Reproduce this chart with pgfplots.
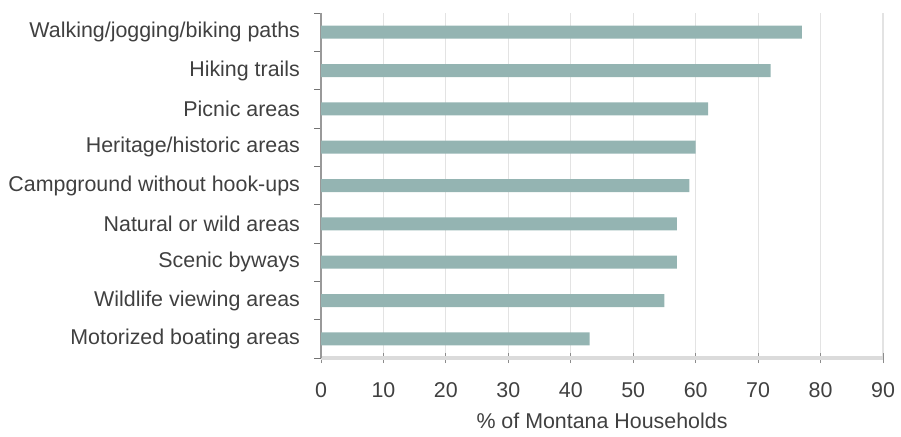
\documentclass[border=0pt]{standalone}
\usepackage{fontspec}
\setmainfont{Liberation Sans}
\usepackage{pgfplots}
\pgfplotsset{compat=1.18}
\definecolor{barc}{HTML}{94B4B2}
\definecolor{txt}{HTML}{404040}
\begin{document}
\begin{tikzpicture}
\begin{axis}[
  scale only axis, width=281pt, height=172.5pt,
  xmin=0, xmax=90, ymin=-0.5, ymax=8.5,
  xtick={0,10,...,90},
  ytick={0,...,8},
  yticklabels={Motorized boating areas, Wildlife viewing areas, Scenic byways, Natural or wild areas, Campground without hook-ups, Heritage/historic areas, Picnic areas, Hiking trails, Walking/jogging/biking paths},
  minor ytick={-0.5,0.5,...,8.5},
  axis x line*=bottom, axis y line*=left,
  x axis line style={-, draw=black!14, line width=2pt},
  y axis line style={-, draw=black!40, line width=0.6pt},
  tick align=outside,
  major tick length=5pt, minor tick length=3.5pt,
  major x tick style={draw=black!45, line width=0.5pt, yshift=2.5pt},
  major y tick style={draw=none},
  minor y tick style={draw=black!55, line width=0.5pt},
  xmajorgrids=true,
  major grid style={draw=black!11, line width=0.6pt},
  /pgf/number format/assume math mode=true,
  tick label style={font=\fontsize{10.7}{12}\selectfont, text=txt},
  xticklabel style={yshift=-3.5pt},
  yticklabel style={xshift=-2pt},
  xlabel={\% of Montana Households},
  xlabel style={font=\fontsize{10.7}{12}\selectfont, text=txt, at={(axis description cs:0.5,0)}, anchor=center, yshift=-31.5pt},
  clip=false,
]
\addplot[xbar, fill=barc, draw=none, bar width=6.5pt] coordinates {(43,0) (55,1) (57,2) (57,3) (59,4) (60,5) (62,6) (72,7) (77,8)};
\coordinate (bbA) at (rel axis cs:-0.5712,-0.2261);
\coordinate (bbB) at (rel axis cs:1.0320,1.0377);
\end{axis}
\pgfresetboundingbox
\path[use as bounding box] (bbA) rectangle (bbB);
\end{tikzpicture}
\end{document}
